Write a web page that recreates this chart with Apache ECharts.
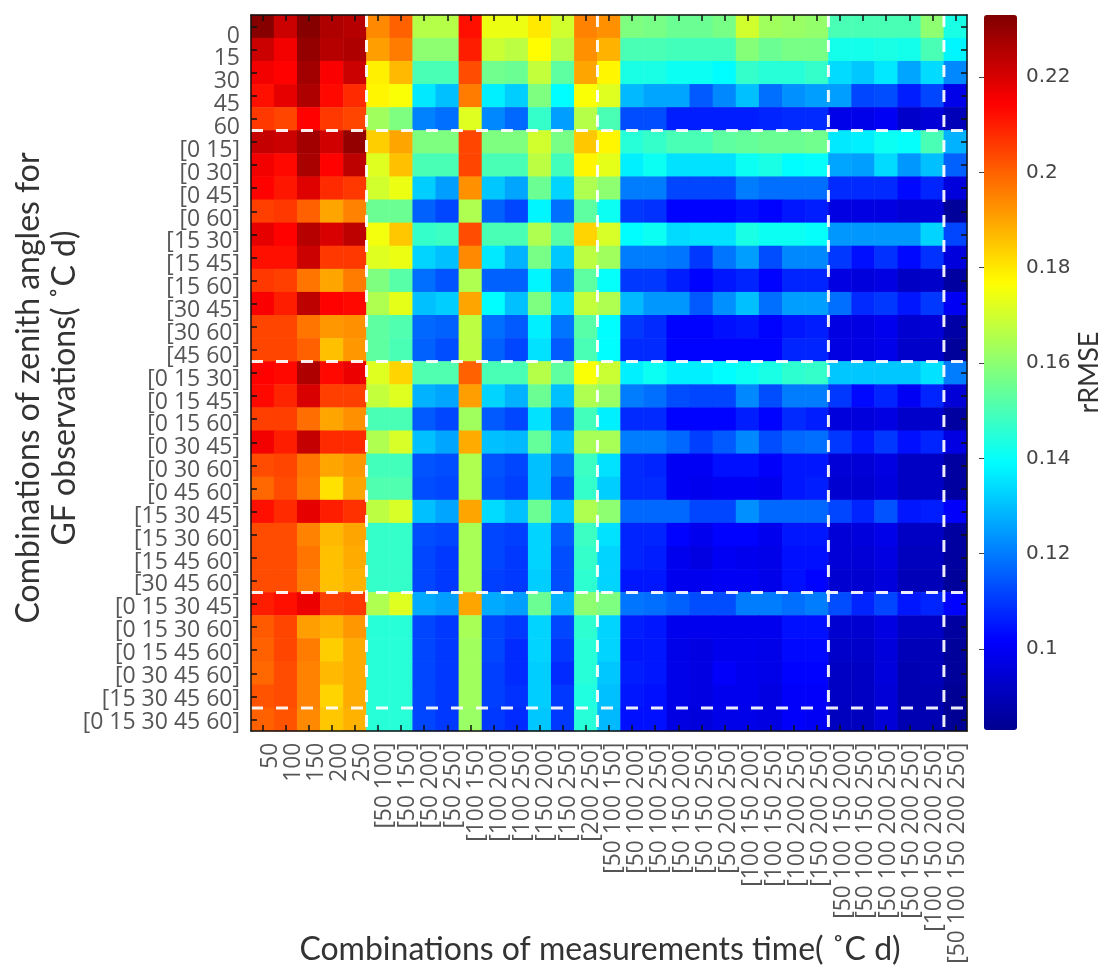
<!DOCTYPE html>
<html>
<head>
<meta charset="utf-8">
<title>rRMSE heatmap</title>
<script src="https://cdn.jsdelivr.net/npm/echarts@6/dist/echarts.min.js"></script>
<style>html,body{margin:0;padding:0;background:#fff}#c{width:1104px;height:970px}</style>
</head>
<body>
<div id="c"></div>
<script>
const xLabels = ['50','100','150','200','250',
  '[50 100]','[50 150]','[50 200]','[50 250]','[100 150]','[100 200]','[100 250]','[150 200]','[150 250]','[200 250]',
  '[50 100 150]','[50 100 200]','[50 100 250]','[50 150 200]','[50 150 250]','[50 200 250]','[100 150 200]','[100 150 250]','[100 200 250]','[150 200 250]',
  '[50 100 150 200]','[50 100 150 250]','[50 100 200 250]','[50 150 200 250]','[100 150 200 250]',
  '[50 100 150 200 250]'];
const yLabels = ['0','15','30','45','60',
  '[0 15]','[0 30]','[0 45]','[0 60]','[15 30]','[15 45]','[15 60]','[30 45]','[30 60]','[45 60]',
  '[0 15 30]','[0 15 45]','[0 15 60]','[0 30 45]','[0 30 60]','[0 45 60]','[15 30 45]','[15 30 60]','[15 45 60]','[30 45 60]',
  '[0 15 30 45]','[0 15 30 60]','[0 15 45 60]','[0 30 45 60]','[15 30 45 60]',
  '[0 15 30 45 60]'];
const colorbarTicks = [0.1,0.12,0.14,0.16,0.18,0.2,0.22];
const jetColors = ['#00008f','#0000ff','#007fff','#00ffff','#7fff7f','#ffff00','#ff7f00','#ff0000','#800000'];
const xBreaks = [5,15,25,30];
const yBreaks = [5,15,25,30];
const rmse = [
[.232,.222,.232,.226,.225,.194,.200,.166,.166,.212,.174,.174,.180,.170,.195,.193,.158,.157,.155,.155,.157,.170,.163,.162,.161,.150,.150,.150,.150,.160,.143],
[.222,.216,.230,.225,.226,.191,.196,.160,.160,.210,.169,.167,.177,.166,.193,.188,.150,.150,.149,.149,.149,.159,.155,.157,.157,.142,.142,.143,.142,.150,.138],
[.216,.214,.228,.215,.222,.179,.187,.150,.150,.203,.156,.155,.168,.153,.190,.178,.143,.143,.141,.141,.139,.147,.145,.145,.147,.134,.131,.136,.126,.134,.122],
[.212,.218,.226,.213,.208,.178,.176,.136,.130,.196,.137,.132,.158,.139,.176,.172,.129,.126,.126,.115,.122,.130,.118,.123,.125,.125,.112,.113,.106,.112,.098],
[.206,.204,.214,.206,.204,.163,.158,.121,.118,.172,.122,.117,.147,.125,.166,.150,.113,.113,.106,.106,.106,.106,.107,.108,.108,.098,.098,.100,.093,.095,.090],
[.223,.222,.228,.221,.230,.184,.190,.158,.158,.204,.158,.158,.170,.157,.185,.178,.145,.147,.150,.150,.153,.154,.155,.155,.156,.136,.137,.141,.140,.150,.128],
[.216,.213,.227,.214,.224,.172,.186,.150,.150,.204,.150,.150,.167,.149,.178,.173,.137,.141,.135,.135,.135,.141,.143,.139,.140,.126,.125,.134,.124,.130,.116],
[.214,.211,.219,.208,.206,.170,.174,.132,.125,.193,.131,.126,.155,.133,.165,.160,.120,.120,.112,.112,.112,.120,.118,.118,.118,.108,.108,.108,.103,.107,.096],
[.205,.206,.200,.190,.195,.155,.155,.116,.112,.165,.116,.112,.138,.118,.153,.141,.110,.109,.102,.102,.102,.104,.102,.105,.106,.097,.097,.097,.095,.095,.085],
[.218,.214,.225,.220,.224,.175,.185,.147,.148,.203,.150,.150,.165,.152,.183,.171,.139,.141,.134,.135,.135,.143,.141,.141,.140,.124,.124,.124,.124,.133,.112],
[.212,.212,.222,.206,.206,.172,.174,.133,.130,.194,.136,.128,.157,.131,.167,.163,.120,.120,.119,.110,.119,.125,.113,.122,.122,.110,.104,.109,.103,.109,.096],
[.206,.205,.197,.190,.196,.158,.152,.118,.114,.165,.116,.116,.138,.120,.153,.140,.110,.110,.106,.102,.105,.107,.102,.107,.107,.097,.096,.097,.092,.093,.086],
[.215,.210,.224,.214,.213,.165,.173,.130,.132,.190,.139,.130,.158,.134,.168,.165,.129,.124,.124,.115,.123,.130,.118,.125,.125,.118,.108,.110,.105,.110,.100],
[.204,.204,.197,.192,.193,.153,.151,.117,.116,.167,.118,.115,.137,.119,.152,.139,.110,.108,.102,.102,.104,.105,.102,.105,.106,.097,.097,.099,.094,.095,.087],
[.204,.204,.200,.186,.192,.153,.150,.116,.113,.167,.116,.112,.135,.115,.150,.139,.108,.108,.102,.102,.102,.102,.102,.107,.107,.097,.097,.098,.093,.093,.085],
[.214,.213,.226,.213,.217,.172,.183,.151,.151,.200,.150,.150,.166,.153,.176,.169,.137,.141,.137,.137,.139,.141,.143,.146,.147,.131,.131,.131,.131,.135,.120],
[.213,.209,.220,.205,.205,.168,.172,.128,.126,.191,.133,.128,.155,.130,.165,.162,.120,.118,.113,.112,.112,.122,.113,.120,.120,.110,.103,.107,.100,.107,.095],
[.205,.205,.198,.190,.193,.150,.150,.115,.112,.163,.115,.112,.135,.117,.149,.137,.108,.108,.102,.102,.102,.106,.102,.108,.106,.096,.096,.097,.093,.093,.086],
[.216,.210,.223,.208,.208,.165,.171,.130,.126,.189,.130,.129,.154,.130,.164,.164,.120,.120,.117,.111,.115,.122,.113,.117,.118,.110,.105,.110,.104,.107,.097],
[.203,.204,.197,.190,.192,.149,.149,.114,.113,.165,.114,.112,.130,.118,.148,.135,.108,.107,.100,.100,.104,.104,.101,.105,.105,.095,.095,.097,.092,.092,.086],
[.199,.203,.196,.181,.190,.151,.151,.113,.112,.165,.113,.111,.130,.113,.147,.132,.108,.108,.100,.099,.100,.100,.099,.105,.106,.094,.094,.096,.092,.092,.086],
[.212,.208,.218,.210,.207,.167,.171,.130,.126,.190,.134,.130,.155,.131,.165,.160,.117,.117,.117,.112,.112,.123,.117,.117,.117,.112,.107,.114,.105,.106,.101],
[.203,.203,.195,.187,.190,.147,.147,.113,.112,.164,.112,.111,.133,.115,.148,.135,.107,.107,.102,.099,.102,.102,.099,.105,.105,.095,.096,.098,.092,.092,.086],
[.203,.203,.197,.186,.189,.147,.147,.112,.110,.164,.112,.110,.133,.113,.147,.133,.107,.106,.099,.097,.100,.099,.098,.104,.104,.095,.095,.097,.091,.091,.086],
[.203,.203,.196,.186,.188,.147,.147,.112,.110,.164,.111,.110,.132,.113,.146,.133,.105,.105,.099,.099,.100,.100,.098,.104,.102,.094,.094,.096,.090,.090,.085],
[.210,.212,.217,.205,.206,.165,.172,.127,.125,.190,.127,.125,.155,.128,.160,.158,.119,.118,.116,.113,.113,.120,.120,.118,.120,.113,.107,.112,.105,.107,.102],
[.201,.204,.191,.188,.192,.145,.145,.112,.110,.164,.112,.110,.133,.112,.146,.133,.106,.105,.099,.099,.099,.099,.099,.104,.104,.094,.094,.097,.092,.092,.086],
[.200,.204,.196,.184,.189,.145,.145,.112,.110,.163,.112,.108,.133,.110,.145,.133,.105,.105,.098,.097,.099,.099,.098,.103,.103,.093,.093,.096,.090,.090,.085],
[.199,.203,.195,.187,.189,.145,.145,.112,.110,.163,.111,.108,.132,.108,.145,.131,.106,.105,.098,.097,.101,.099,.098,.102,.102,.092,.092,.096,.089,.090,.085],
[.202,.203,.195,.183,.189,.145,.145,.112,.110,.163,.111,.109,.132,.110,.144,.130,.105,.104,.098,.097,.099,.099,.097,.101,.101,.092,.092,.095,.089,.089,.084],
[.200,.202,.194,.185,.188,.145,.145,.112,.110,.162,.110,.108,.131,.110,.145,.129,.104,.104,.097,.096,.098,.098,.097,.101,.100,.091,.091,.095,.089,.089,.084]
];

const cells = [];
rmse.forEach((row, r) => row.forEach((v, c) => cells.push([c, r, v])));

const labelGray = '#555';
const sans = '"Open Sans","Noto Sans",sans-serif';
const titleFont = 'Lato,"Open Sans",sans-serif';

const breakLine = pts => ({
  type: 'line', xAxisIndex: 2, yAxisIndex: 2, data: pts, symbol: 'none', z: 6, silent: true,
  lineStyle: { color: '#fff', width: 3, type: [12, 13], opacity: 0.92 }
});

const frameLine = { show: true, onZero: false, lineStyle: { color: '#111', width: 1.5 } };
const innerTick = { show: true, inside: true, length: 6, interval: 0, alignWithLabel: true, lineStyle: { color: '#111', width: 1.5 } };

const chart = echarts.init(document.getElementById('c'), null, { renderer: 'canvas' });
chart.setOption({
  animation: false,
  backgroundColor: '#fff',
  grid: [
    { left: 251, top: 15, width: 716, height: 716, outerBoundsMode: 'none' },
    { left: 984, top: 15, width: 33, height: 715, outerBoundsMode: 'none' },
    { left: 259, top: 24.6, width: 710, height: 709, outerBoundsMode: 'none' }
  ],
  visualMap: {
    type: 'continuous', seriesIndex: 0, dimension: 2, min: 0.083, max: 0.233,
    inRange: { color: jetColors }, calculable: false, orient: 'vertical',
    left: 984, top: 15, itemWidth: 33, itemHeight: 715, padding: 0, z: 1
  },
  xAxis: [
    { type: 'category', data: xLabels, gridIndex: 0, position: 'bottom', zlevel: 1,
      axisLine: frameLine, axisTick: innerTick, splitLine: { show: false }, axisLabel: { show: false },
      name: 'Combinations of measurements time( ˚C d)', nameLocation: 'middle', nameGap: 203, nameMoveOverlap: false,
      nameTextStyle: { fontSize: 32, color: '#333', fontFamily: titleFont, padding: [0, 18, 0, 0] } },
    { type: 'category', data: xLabels, gridIndex: 0, position: 'top', zlevel: 1,
      axisLine: frameLine, axisTick: innerTick, axisLabel: { show: false } },
    { type: 'value', gridIndex: 0, min: 0, max: 31, show: false },
    { type: 'value', gridIndex: 1, min: 0, max: 1, show: false },
    { type: 'category', data: xLabels, gridIndex: 2, position: 'bottom', z: 5,
      axisLine: { show: false }, axisTick: { show: false }, splitLine: { show: false },
      axisLabel: { interval: 0, rotate: 90, margin: 9, fontSize: 22.8, color: labelGray, fontFamily: sans } }
  ],
  yAxis: [
    { type: 'category', data: yLabels, gridIndex: 0, inverse: true, position: 'left', zlevel: 1,
      axisLine: frameLine, axisTick: innerTick, splitLine: { show: false }, axisLabel: { show: false },
      name: 'Combinations of zenith angles for\nGF observations( ˚C d)', nameLocation: 'middle', nameGap: 168, nameMoveOverlap: false,
      nameTextStyle: { fontSize: 32, color: '#333', fontFamily: titleFont, lineHeight: 36, padding: [0, 30, 0, 0] } },
    { type: 'category', data: yLabels, gridIndex: 0, inverse: true, position: 'right', zlevel: 1,
      axisLine: frameLine, axisTick: innerTick, axisLabel: { show: false } },
    { type: 'value', gridIndex: 0, min: 0, max: 31, inverse: true, show: false },
    { type: 'value', gridIndex: 1, min: 0.083, max: 0.233, position: 'right', zlevel: 1,
      axisLine: { show: false }, splitLine: { show: false },
      axisTick: { show: true, inside: true, length: 5, customValues: colorbarTicks, lineStyle: { color: '#444' } },
      axisLabel: { show: true, customValues: colorbarTicks, margin: 9, fontSize: 20, color: '#444', fontFamily: '"DejaVu Sans",sans-serif',
        formatter: v => String(+(+v).toFixed(2)) },
      name: 'rRMSE', nameLocation: 'middle', nameRotate: 90, nameGap: 59, nameMoveOverlap: false,
      nameTextStyle: { fontSize: 27, color: '#333', fontFamily: titleFont } },
    { type: 'category', data: yLabels, gridIndex: 2, inverse: true, position: 'left', z: 5,
      axisLine: { show: false }, axisTick: { show: false }, splitLine: { show: false },
      axisLabel: { interval: 0, margin: 19, fontSize: 23, color: labelGray, fontFamily: sans } }
  ],
  series: [
    { type: 'heatmap', xAxisIndex: 0, yAxisIndex: 0, data: cells, silent: true, z: 2, itemStyle: { borderWidth: 0 } },
    ...xBreaks.map(b => breakLine([[b, 0], [b, 31]])),
    ...yBreaks.map(b => breakLine([[0, b], [31, b]]))
  ]
});
</script>
</body>
</html>
